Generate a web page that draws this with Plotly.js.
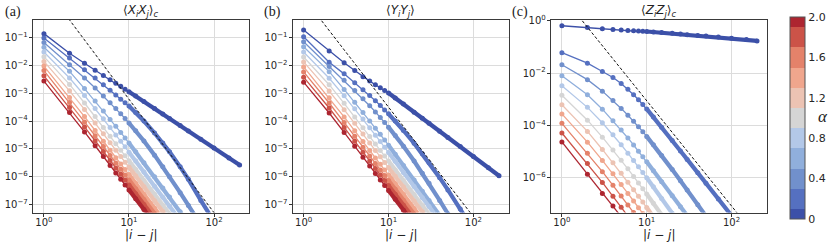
<!DOCTYPE html>
<html><head><meta charset="utf-8">
<script src="https://cdn.plot.ly/plotly-3.0.1.min.js"></script>
<style>html,body{margin:0;padding:0;background:#fff}#chart{width:830px;height:245px}</style>
</head><body><div id="chart"></div>
<script>
// separation |i-j| at which values were read
const R = [1,2,3,4,5,6,7,8,9,10,12,15,20,25,30,40,50,70,100,150,200];
const ALPHA = [0,0.2,0.4,0.6,0.8,1.0,1.2,1.4,1.6,1.8,2.0];
const COLORS = ['#3c50a8','#5570c0','#7190cc','#90afdc','#b3c8e8','#d5d5d5','#ecc3b3','#f0a68d','#e4826a','#cc5348','#ad2530'];
const CBAR_TICKS = [0,0.4,0.8,1.2,1.6,2.0];
const CBAR_LABELS = ['0','0.4','0.8','1.2','1.6','2.0'];
const X_TICKVALS = [1,10,100];
const X_TICKTEXT = ['10<sup>0</sup>','10<sup>1</sup>','10<sup>2</sup>'];
const Y_TICKVALS_AB = [1e-7,1e-6,1e-5,1e-4,1e-3,1e-2,1e-1];
const Y_TICKTEXT_AB = ['10<sup>−7</sup>','10<sup>−6</sup>','10<sup>−5</sup>','10<sup>−4</sup>','10<sup>−3</sup>','10<sup>−2</sup>','10<sup>−1</sup>'];
const Y_TICKVALS_C = [1e-6,1e-4,1e-2,1];
const Y_TICKTEXT_C = ['10<sup>−6</sup>','10<sup>−4</sup>','10<sup>−2</sup>','10<sup>0</sup>'];
const TITLES = ['⟨<i>X<sub>i</sub>X<sub>j</sub></i>⟩<sub><i>c</i></sub>','⟨<i>Y<sub>i</sub>Y<sub>j</sub></i>⟩','⟨<i>Z<sub>i</sub>Z<sub>j</sub></i>⟩<sub><i>c</i></sub>'];
const PANEL_LABELS = ['(a)','(b)','(c)'];
const XLABEL = '|<i>i</i> − <i>j</i>|';

// log10 of the correlations, panel (a) <XiXj>_c, one array per alpha
const XX_00 = [-0.85,-1.56,-1.92,-2.17,-2.36,-2.51,-2.64,-2.75,-2.85,-2.94,-3.10,-3.30,-3.55,-3.75,-3.91,-4.16,-4.36,-4.66,-4.97,-5.33,-5.58];
const XX_02 = [-1.01,-1.73,-2.15,-2.45,-2.69,-2.89,-3.06,-3.21,-3.34,-3.46,-3.69,-4.00,-4.43,-4.79,-5.11,-5.65,-6.10,-6.86,-7.62];
const XX_04 = [-1.17,-1.97,-2.45,-2.81,-3.10,-3.34,-3.55,-3.74,-3.91,-4.07,-4.35,-4.72,-5.23,-5.65,-6.01,-6.58,-7.04,-7.74];
const XX_06 = [-1.34,-2.21,-2.83,-3.28,-3.64,-3.94,-4.19,-4.41,-4.61,-4.79,-5.11,-5.50,-6.01,-6.41,-6.74,-7.27,-7.68];
const XX_08 = [-1.51,-2.45,-3.08,-3.55,-3.92,-4.23,-4.50,-4.73,-4.93,-5.12,-5.44,-5.84,-6.35,-6.75,-7.07,-7.58];
const XX_10 = [-1.68,-2.68,-3.35,-3.84,-4.23,-4.55,-4.82,-5.05,-5.25,-5.43,-5.75,-6.14,-6.64,-7.03,-7.35,-7.85];
const XX_12 = [-1.85,-2.91,-3.58,-4.07,-4.46,-4.78,-5.05,-5.28,-5.48,-5.66,-5.98,-6.37,-6.87,-7.26,-7.58];
const XX_14 = [-2.02,-3.15,-3.84,-4.34,-4.73,-5.05,-5.32,-5.55,-5.75,-5.93,-6.25,-6.64,-7.14,-7.53];
const XX_16 = [-2.18,-3.33,-4.03,-4.53,-4.92,-5.24,-5.51,-5.74,-5.94,-6.12,-6.44,-6.83,-7.33,-7.72];
const XX_18 = [-2.37,-3.51,-4.21,-4.71,-5.10,-5.42,-5.69,-5.92,-6.12,-6.30,-6.62,-7.01,-7.51];
const XX_20 = [-2.56,-3.69,-4.39,-4.89,-5.28,-5.60,-5.87,-6.10,-6.30,-6.48,-6.80,-7.19,-7.69];

// panel (b) <YiYj>
const YY_00 = [-0.72,-1.48,-1.90,-2.18,-2.40,-2.56,-2.69,-2.80,-2.90,-2.99,-3.17,-3.39,-3.68,-3.90,-4.08,-4.37,-4.59,-4.92,-5.28,-5.68,-5.97];
const YY_02 = [-0.96,-1.88,-2.30,-2.62,-2.87,-3.08,-3.27,-3.44,-3.60,-3.74,-4.00,-4.34,-4.80,-5.18,-5.50,-6.04,-6.48,-7.17,-7.92];
const YY_04 = [-1.14,-2.03,-2.53,-2.90,-3.20,-3.45,-3.67,-3.87,-4.05,-4.22,-4.52,-4.91,-5.44,-5.88,-6.24,-6.86,-7.34,-8.00];
const YY_06 = [-1.32,-2.22,-2.86,-3.32,-3.69,-4.00,-4.26,-4.48,-4.68,-4.87,-5.20,-5.60,-6.12,-6.53,-6.86,-7.40];
const YY_08 = [-1.51,-2.46,-3.09,-3.56,-3.93,-4.24,-4.51,-4.74,-4.94,-5.13,-5.45,-5.85,-6.36,-6.76,-7.08,-7.59];
const YY_10 = [-1.69,-2.69,-3.36,-3.85,-4.24,-4.56,-4.83,-5.06,-5.26,-5.44,-5.76,-6.15,-6.65,-7.04,-7.36];
const YY_12 = [-1.87,-2.92,-3.59,-4.08,-4.47,-4.79,-5.06,-5.29,-5.49,-5.67,-5.99,-6.38,-6.88,-7.27,-7.59];
const YY_14 = [-2.05,-3.16,-3.85,-4.35,-4.74,-5.06,-5.33,-5.56,-5.76,-5.94,-6.26,-6.65,-7.15,-7.54];
const YY_16 = [-2.23,-3.35,-4.05,-4.55,-4.94,-5.26,-5.53,-5.76,-5.96,-6.14,-6.46,-6.85,-7.35];
const YY_18 = [-2.42,-3.53,-4.23,-4.73,-5.12,-5.44,-5.71,-5.94,-6.14,-6.32,-6.64,-7.03,-7.53];
const YY_20 = [-2.60,-3.71,-4.41,-4.91,-5.30,-5.62,-5.89,-6.12,-6.32,-6.50,-6.82,-7.21,-7.71];

// panel (c) <ZiZj>_c
const ZZ_00 = [-0.19,-0.26,-0.30,-0.33,-0.35,-0.37,-0.38,-0.39,-0.40,-0.41,-0.43,-0.45,-0.48,-0.51,-0.53,-0.56,-0.58,-0.62,-0.67,-0.72,-0.77];
const ZZ_02 = [-1.22,-1.62,-1.94,-2.17,-2.40,-2.62,-2.83,-3.02,-3.20,-3.37,-3.68,-4.07,-4.58,-4.98,-5.30,-5.81,-6.21,-6.81,-7.45];
const ZZ_04 = [-1.68,-2.25,-2.69,-3.05,-3.35,-3.61,-3.84,-4.05,-4.24,-4.42,-4.74,-5.15,-5.69,-6.12,-6.47,-7.03,-7.47];
const ZZ_06 = [-2.10,-2.83,-3.38,-3.82,-4.18,-4.48,-4.75,-4.99,-5.20,-5.39,-5.73,-6.15,-6.69,-7.11,-7.45];
const ZZ_08 = [-2.48,-3.31,-3.90,-4.36,-4.74,-5.06,-5.34,-5.58,-5.80,-6.00,-6.35,-6.79,-7.36];
const ZZ_10 = [-2.85,-3.80,-4.45,-4.94,-5.33,-5.66,-5.95,-6.20,-6.42,-6.62,-6.98,-7.42];
const ZZ_12 = [-3.21,-4.23,-4.92,-5.43,-5.83,-6.17,-6.46,-6.71,-6.93,-7.14,-7.50];
const ZZ_14 = [-3.56,-4.64,-5.34,-5.85,-6.26,-6.60,-6.89,-7.15,-7.37,-7.57];
const ZZ_16 = [-3.92,-5.06,-5.77,-6.29,-6.70,-7.04,-7.33,-7.58];
const ZZ_18 = [-4.29,-5.46,-6.18,-6.71,-7.13,-7.47];
const ZZ_20 = [-4.63,-5.87,-6.60,-7.08,-7.49];

// dashed guide lines: endpoints (|i-j|, log10 value) per panel
const GUIDE_R = [[1.8,110],[1.5,100],[1.6,125]];
const GUIDE_LOG = [[-0.17,-7.47],[-0.245,-7.45],[0.145,-7.47]];

const PANELS = [
  [XX_00,XX_02,XX_04,XX_06,XX_08,XX_10,XX_12,XX_14,XX_16,XX_18,XX_20],
  [YY_00,YY_02,YY_04,YY_06,YY_08,YY_10,YY_12,YY_14,YY_16,YY_18,YY_20],
  [ZZ_00,ZZ_02,ZZ_04,ZZ_06,ZZ_08,ZZ_10,ZZ_12,ZZ_14,ZZ_16,ZZ_18,ZZ_20]
];

const traces = [];
PANELS.forEach((lines, p) => {
  const xa = p === 0 ? 'x' : 'x' + (p + 1);
  const ya = p === 0 ? 'y' : 'y' + (p + 1);
  lines.forEach((logs, k) => {
    const r = R.slice(0, logs.length);
    const v = logs.map(l => Math.pow(10, l));
    const idx = r.map((_, i) => i).filter(i => r[i] >= 10);
    if (idx.length > 1) {
      traces.push({x: idx.map(i => r[i]), y: idx.map(i => v[i]), xaxis: xa, yaxis: ya,
        mode: 'lines', line: {color: COLORS[k], width: 4.2}, hoverinfo: 'skip', showlegend: false,
        name: 'alpha=' + ALPHA[k]});
    }
    traces.push({x: r, y: v, xaxis: xa, yaxis: ya, mode: 'lines+markers',
      line: {color: COLORS[k], width: 1.3}, marker: {color: COLORS[k], size: 5},
      showlegend: false, name: 'alpha=' + ALPHA[k]});
  });
  traces.push({x: GUIDE_R[p], y: GUIDE_LOG[p].map(l => Math.pow(10, l)), xaxis: xa, yaxis: ya,
    mode: 'lines', line: {color: '#111', width: 1, dash: '3px,2px'}, showlegend: false, hoverinfo: 'skip'});
});

// discrete colour scale for the colorbar (one band per alpha)
const rnd = v => Math.round(v * 1000) / 1000;
const scale = [];
COLORS.forEach((c, k) => {
  const lo = k === 0 ? 0 : rnd(0.1 * k - 0.05);
  const hi = k === COLORS.length - 1 ? 1 : rnd(0.1 * k + 0.05);
  scale.push([lo, c], [hi, c]);
});
traces.push({x: [null], y: [null], xaxis: 'x3', yaxis: 'y3', mode: 'markers', showlegend: false, hoverinfo: 'skip',
  marker: {color: [1], cmin: 0, cmax: 2, colorscale: scale, showscale: true, size: 1,
    colorbar: {x: 790/830, xanchor: 'left', y: 1 - 118/245, yanchor: 'middle', len: 202/245, lenmode: 'fraction',
      thickness: 15, thicknessmode: 'pixels', xpad: 0, ypad: 0, outlinewidth: 1, outlinecolor: '#555',
      tickvals: CBAR_TICKS, ticktext: CBAR_LABELS, ticks: '', tickfont: {family: 'DejaVu Sans', size: 11, color: '#262626'}}}});

const W = 830, H = 245;
const XDOM = [[33.3, 249.3], [293, 508.7], [551.3, 766.7]];
const YDOM = [1 - 212.5/H, 1 - 20/H];
const tickfont = {family: 'DejaVu Sans', size: 10, color: '#262626'};
const common = {type: 'log', showgrid: true, gridcolor: '#dcdcdc', gridwidth: 1, ticks: 'outside', ticklen: 3.5,
  tickcolor: '#333', showline: true, mirror: true, linecolor: '#3a3a3a', linewidth: 1, zeroline: false,
  tickmode: 'array', tickfont: tickfont};

const layout = {width: W, height: H, margin: {l: 0, r: 0, t: 0, b: 0}, paper_bgcolor: '#fff', plot_bgcolor: '#fff',
  showlegend: false, annotations: []};
for (let p = 0; p < 3; p++) {
  const sx = p === 0 ? '' : String(p + 1);
  layout['xaxis' + sx] = Object.assign({}, common, {domain: [XDOM[p][0]/W, XDOM[p][1]/W], anchor: 'y' + sx,
    range: [-0.125, 2.415], tickvals: X_TICKVALS, ticktext: X_TICKTEXT, ticklabelstandoff: -3});
  layout['yaxis' + sx] = Object.assign({}, common, {domain: YDOM, anchor: 'x' + sx,
    range: p === 2 ? [-7.33, 0.03] : [-7.295, -0.359],
    tickvals: p === 2 ? Y_TICKVALS_C : Y_TICKVALS_AB, ticktext: p === 2 ? Y_TICKTEXT_C : Y_TICKTEXT_AB,
    ticklabelstandoff: -1});
  const cx = (XDOM[p][0] + XDOM[p][1]) / 2 / W;
  layout.annotations.push({xref: 'paper', yref: 'paper', x: cx, y: 1 - 11/H,
    xanchor: 'center', yanchor: 'middle', showarrow: false, text: TITLES[p],
    font: {family: 'DejaVu Sans', size: 12, color: '#222'}});
  layout.annotations.push({xref: 'paper', yref: 'paper', x: cx, y: 1 - 235/H,
    xanchor: 'center', yanchor: 'middle', showarrow: false, text: XLABEL,
    font: {family: 'DejaVu Sans', size: 12, color: '#222'}});
}
[3, 262, 510].forEach((px, p) => {
  layout.annotations.push({xref: 'paper', yref: 'paper', x: px / W, y: 1 - 12/H, xanchor: 'left', yanchor: 'middle',
    showarrow: false, text: PANEL_LABELS[p], font: {family: 'Liberation Serif', size: 14, color: '#222'}});
});
layout.annotations.push({xref: 'paper', yref: 'paper', x: 823 / W, y: 1 - 116/H, xanchor: 'center', yanchor: 'middle',
  showarrow: false, text: '<i>α</i>', font: {family: 'Liberation Serif', size: 17, color: '#222'}});

Plotly.newPlot('chart', traces, layout, {staticPlot: true, displayModeBar: false});
</script></body></html>
